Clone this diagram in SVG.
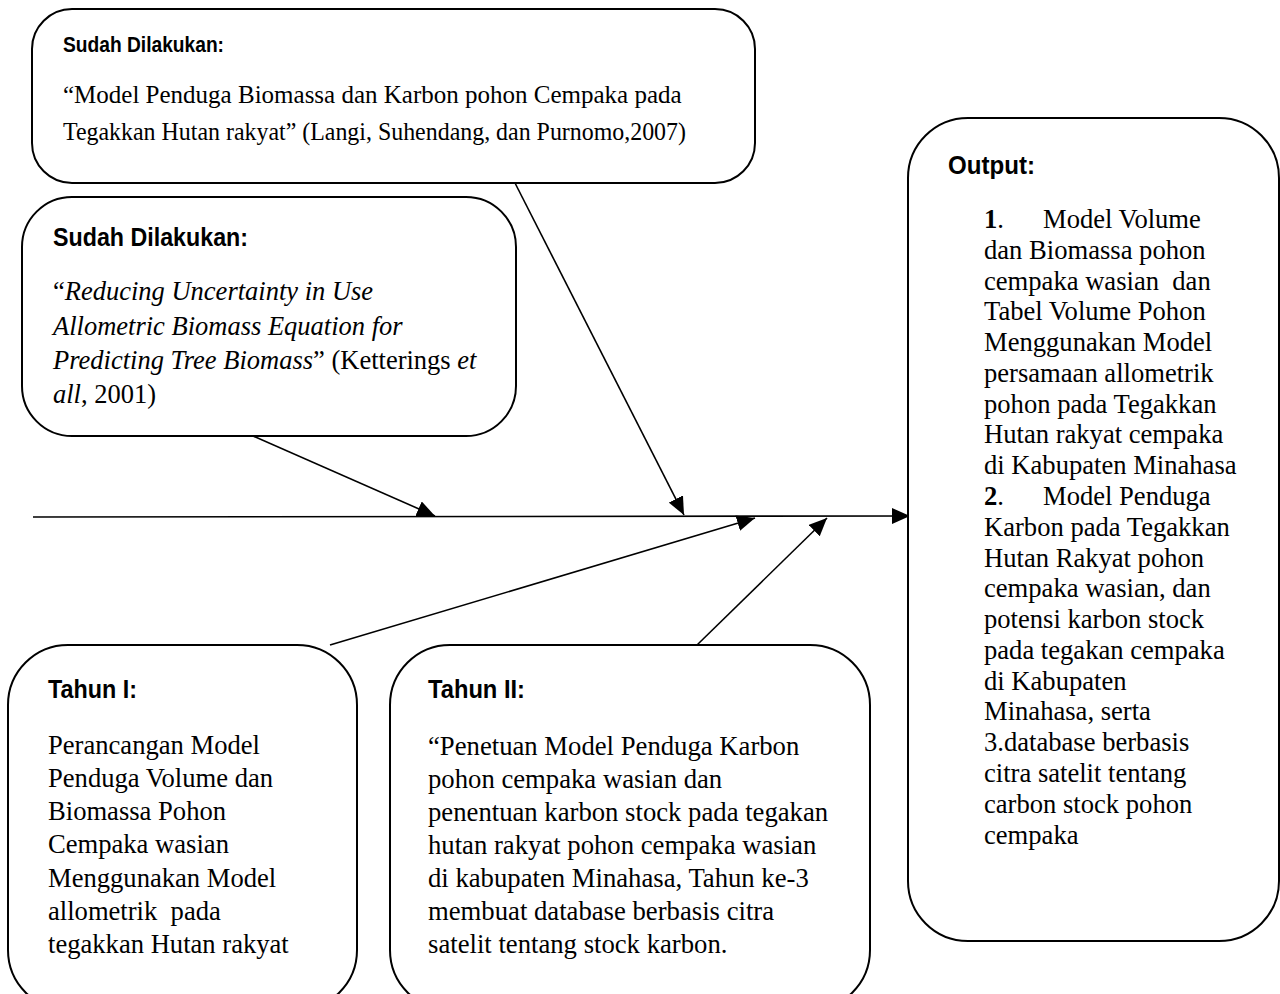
<svg xmlns="http://www.w3.org/2000/svg" width="1280" height="994" viewBox="0 0 1280 994">
<defs>
<marker id="ah" markerUnits="userSpaceOnUse" markerWidth="18" markerHeight="16" viewBox="0 0 18 16" refX="18" refY="8" orient="auto">
<path d="M0,0 L18,8 L0,16 Z" fill="#000"/>
</marker>
</defs>
<style>
.box{fill:#fff;stroke:#000;stroke-width:2}
.ttl{font-family:"Liberation Sans",Arial,sans-serif;font-weight:bold;fill:#000}
.bd{font-family:"Liberation Serif","Times New Roman",serif;fill:#000;white-space:pre}
.it{font-style:italic}
.b{font-weight:bold}
.con{stroke:#000;stroke-width:1.6;fill:none}
</style>
<rect width="1280" height="994" fill="#fff"/>
<g id="connectors">
<line class="con" x1="33" y1="517" x2="910" y2="516" stroke-width="2.4" marker-end="url(#ah)"/>
<line class="con" x1="253" y1="436" x2="435" y2="516" marker-end="url(#ah)"/>
<line class="con" x1="515" y1="183" x2="684" y2="515" marker-end="url(#ah)"/>
<line class="con" x1="330" y1="645" x2="755" y2="518" marker-end="url(#ah)"/>
<line class="con" x1="697" y1="645" x2="827" y2="518" marker-end="url(#ah)"/>
</g>
<g id="node-sudah1">
<rect class="box" x="32" y="9" width="723" height="174" rx="40"/>
<text class="ttl" x="63" y="52" font-size="22" textLength="161" lengthAdjust="spacingAndGlyphs">Sudah Dilakukan:</text>
<text class="bd" font-size="25"><tspan x="63" y="103">“Model Penduga Biomassa dan Karbon pohon Cempaka pada</tspan></text>
<text class="bd" font-size="25" x="63" y="140" textLength="623" lengthAdjust="spacingAndGlyphs">Tegakkan Hutan rakyat” (Langi, Suhendang, dan Purnomo,2007)</text>
</g>
<g id="node-sudah2">
<rect class="box" x="22" y="197" width="494" height="239" rx="50"/>
<text class="ttl" x="53" y="246" font-size="26" textLength="195" lengthAdjust="spacingAndGlyphs">Sudah Dilakukan:</text>
<text class="bd" font-size="26.5"><tspan x="53" y="300">“</tspan><tspan class="it">Reducing Uncertainty in Use</tspan><tspan class="it" x="53" y="335">Allometric Biomass Equation for</tspan><tspan class="it" x="53" y="369">Predicting Tree Biomass</tspan><tspan>” (Ketterings </tspan><tspan class="it">et</tspan><tspan class="it" x="53" y="403">all</tspan><tspan>, 2001)</tspan></text>
</g>
<g id="node-tahun1">
<rect class="box" x="8" y="645" width="349" height="365" rx="60"/>
<text class="ttl" x="48" y="698" font-size="26" textLength="89" lengthAdjust="spacingAndGlyphs">Tahun I:</text>
<text class="bd" font-size="26.6"><tspan x="48" y="754">Perancangan Model</tspan><tspan x="48" y="787">Penduga Volume dan</tspan><tspan x="48" y="820">Biomassa Pohon</tspan><tspan x="48" y="853">Cempaka wasian</tspan><tspan x="48" y="887">Menggunakan Model</tspan><tspan x="48" y="920">allometrik  pada</tspan><tspan x="48" y="953">tegakkan Hutan rakyat</tspan></text>
</g>
<g id="node-tahun2">
<rect class="box" x="390" y="645" width="480" height="365" rx="60"/>
<text class="ttl" x="428" y="698" font-size="26" textLength="97" lengthAdjust="spacingAndGlyphs">Tahun II:</text>
<text class="bd" font-size="26.7"><tspan x="428" y="755">“Penetuan Model Penduga Karbon</tspan><tspan x="428" y="788">pohon cempaka wasian dan</tspan><tspan x="428" y="821">penentuan karbon stock pada tegakan</tspan><tspan x="428" y="854">hutan rakyat pohon cempaka wasian</tspan><tspan x="428" y="887">di kabupaten Minahasa, Tahun ke-3</tspan><tspan x="428" y="920">membuat database berbasis citra</tspan><tspan x="428" y="953">satelit tentang stock karbon.</tspan></text>
</g>
<g id="node-output">
<rect class="box" x="908" y="118" width="371" height="823" rx="60"/>
<text class="ttl" x="948" y="174" font-size="26" textLength="87" lengthAdjust="spacingAndGlyphs">Output:</text>
<text class="bd" font-size="26.6"><tspan x="984" y="228" class="b">1</tspan><tspan>.</tspan><tspan x="1043" y="228">Model Volume</tspan><tspan x="984" y="259">dan Biomassa pohon</tspan><tspan x="984" y="290">cempaka wasian  dan</tspan><tspan x="984" y="320">Tabel Volume Pohon</tspan><tspan x="984" y="351">Menggunakan Model</tspan><tspan x="984" y="382">persamaan allometrik</tspan><tspan x="984" y="413">pohon pada Tegakkan</tspan><tspan x="984" y="443">Hutan rakyat cempaka</tspan><tspan x="984" y="474">di Kabupaten Minahasa</tspan><tspan x="984" y="505" class="b">2</tspan><tspan>.</tspan><tspan x="1043" y="505">Model Penduga</tspan><tspan x="984" y="536">Karbon pada Tegakkan</tspan><tspan x="984" y="567">Hutan Rakyat pohon</tspan><tspan x="984" y="597">cempaka wasian, dan</tspan><tspan x="984" y="628">potensi karbon stock</tspan><tspan x="984" y="659">pada tegakan cempaka</tspan><tspan x="984" y="690">di Kabupaten</tspan><tspan x="984" y="720">Minahasa, serta</tspan><tspan x="984" y="751">3.database berbasis</tspan><tspan x="984" y="782">citra satelit tentang</tspan><tspan x="984" y="813">carbon stock pohon</tspan><tspan x="984" y="844">cempaka</tspan></text>
</g>
</svg>
